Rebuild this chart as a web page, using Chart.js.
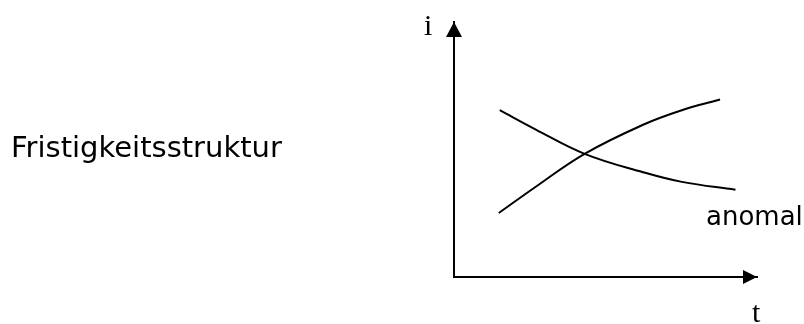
<!DOCTYPE html>
<html>
<head>
<meta charset="utf-8">
<script src="https://cdn.jsdelivr.net/npm/chart.js@4"></script>
<style>
  html, body { margin: 0; padding: 0; background: #fff; }
  #wrap { width: 804px; height: 324px; }
</style>
</head>
<body>
<div id="wrap"><canvas id="termChart" width="804" height="324"></canvas></div>
<script>
// values (x = Laufzeit t, y = Zins i, both 0..100)
const normalX = [14.8, 27.0, 43.1, 62.4, 75.2, 87.8];
const normalY = [25.1, 35.4, 48.3, 59.7, 65.4, 69.6];
const anomalX = [15.1, 27.0, 43.1, 62.4, 75.2, 92.9];
const anomalY = [65.4, 57.8, 48.3, 41.1, 37.3, 34.2];

const titleText = 'Fristigkeitsstruktur';
const curveLabel = 'anomal';
const yAxisLabel = 'i';
const xAxisLabel = 't';

const toPoints = (xs, ys) => xs.map((x, i) => ({ x: x, y: ys[i] }));

// arrows + free text labels
const sketchPlugin = {
    id: 'sketch',
    afterDraw(chart) {
        const ctx = chart.ctx;
        const a = chart.chartArea;
        ctx.save();
        ctx.fillStyle = '#000';

        // arrow heads at the axis ends
        ctx.beginPath();
        ctx.moveTo(a.left, a.top);
        ctx.lineTo(a.left - 8, a.top + 15);
        ctx.lineTo(a.left + 8, a.top + 15);
        ctx.closePath();
        ctx.fill();

        ctx.beginPath();
        ctx.moveTo(a.right, a.bottom);
        ctx.lineTo(a.right - 14, a.bottom - 7);
        ctx.lineTo(a.right - 14, a.bottom + 7);
        ctx.closePath();
        ctx.fill();

        ctx.textBaseline = 'alphabetic';
        ctx.textAlign = 'left';
        ctx.font = '29px "DejaVu Sans", Verdana, sans-serif';
        ctx.fillText(titleText, 11, 157);

        ctx.font = '26px "DejaVu Sans", Verdana, sans-serif';
        ctx.fillText(curveLabel, 706, 225);

        ctx.font = '30px "Liberation Serif", "Times New Roman", serif';
        ctx.fillText(yAxisLabel, a.left - 30, 35);
        ctx.fillText(xAxisLabel, a.right - 5, 322);
        ctx.restore();
    }
};

const curveStyle = {
    showLine: true,
    borderColor: '#000',
    borderWidth: 2,
    pointRadius: 0,
    tension: 0.4
};

new Chart(document.getElementById('termChart'), {
    type: 'scatter',
    data: {
        datasets: [
            Object.assign({ label: 'normal', data: toPoints(normalX, normalY) }, curveStyle),
            Object.assign({ label: curveLabel, data: toPoints(anomalX, anomalY) }, curveStyle)
        ]
    },
    options: {
        responsive: false,
        animation: false,
        layout: { padding: { left: 446, right: 47, top: 22, bottom: 39 } },
        plugins: {
            legend: { display: false },
            tooltip: { enabled: false }
        },
        scales: {
            x: {
                type: 'linear',
                min: 0,
                max: 100,
                ticks: { display: false },
                grid: { display: false },
                border: { display: true, color: '#000', width: 2 }
            },
            y: {
                type: 'linear',
                min: 0,
                max: 100,
                ticks: { display: false },
                grid: { display: false },
                border: { display: true, color: '#000', width: 2 }
            }
        }
    },
    plugins: [sketchPlugin]
});
</script>
</body>
</html>
